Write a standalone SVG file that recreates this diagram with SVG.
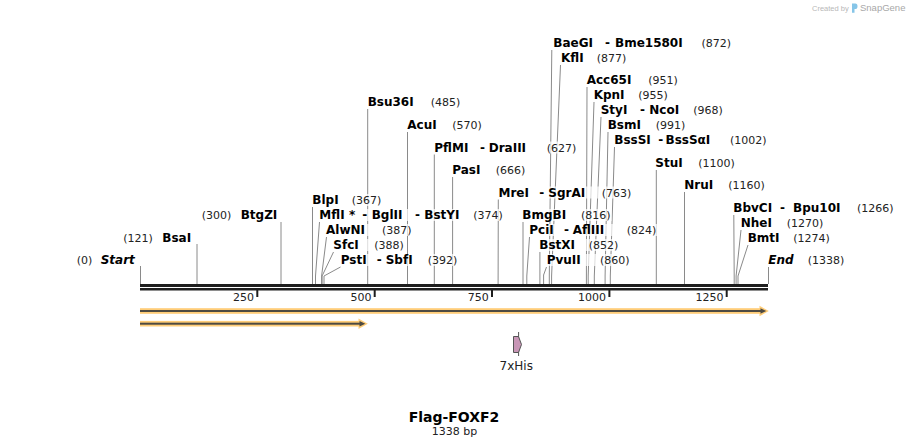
<svg xmlns="http://www.w3.org/2000/svg" width="909" height="447" viewBox="0 0 909 447">
<style>
.n{font-family:"DejaVu Sans",Verdana,sans-serif;font-size:12px;font-weight:bold;fill:#000}
.i{font-style:italic}
.p{font-family:"DejaVu Sans",Verdana,sans-serif;font-size:11px;font-weight:normal;fill:#222}
.bg{fill:#fff;fill-opacity:.7}
.ln{fill:none;stroke:#8a8a8a;stroke-width:1}
.bb{fill:#1e1e1e}
.tk{font-family:"DejaVu Sans",Verdana,sans-serif;font-size:11px;fill:#222;text-anchor:end}
.halo{fill:#ffcd78;stroke:none}
.dk{fill:#4d4a42}
</style>
<rect width="909" height="447" fill="#fff"/>

<g id="watermark">
<text x="812" y="11" font-family="Liberation Sans,Arial,sans-serif" font-size="7.5" fill="#b8b8b8">Created by</text>
<path d="M852,3.5 h3.3 a2.2,2.8 0 0 1 0,5.6 h-0.8 v3.6 h-2.5 z" fill="#86c5e8"/>
<text x="860" y="11.3" font-family="Liberation Sans,Arial,sans-serif" font-size="9.5" fill="#a8a8a8">SnapGene</text>
</g>

<g id="connectors">
<polyline class="ln" points="140.5,266 140.5,284"/>
<polyline class="ln" points="197,244 197,284"/>
<polyline class="ln" points="281,222 281,284"/>
<polyline class="ln" points="312.5,207 312.5,284"/>
<polyline class="ln" points="319.5,222 315.5,276 315.5,284"/>
<polyline class="ln" points="326.5,237 321.6,276 321.6,284"/>
<polyline class="ln" points="333.5,252 322.1,276 322.1,284"/>
<polyline class="ln" points="340.5,267 324,276 324,284"/>
<polyline class="ln" points="367.7,109 367.7,284"/>
<polyline class="ln" points="407.5,132 407.5,284"/>
<polyline class="ln" points="434.3,154.5 434.3,284"/>
<polyline class="ln" points="452.6,177 452.6,284"/>
<polyline class="ln" points="498.3,199.5 498.1,284"/>
<polyline class="ln" points="523,222 523,284"/>
<polyline class="ln" points="529.5,237 526.8,276 526.8,284"/>
<polyline class="ln" points="539.9,252 539.9,284"/>
<polyline class="ln" points="546.5,267 543.6,275 543.6,284"/>
<polyline class="ln" points="551.8,50 549.3,276 549.3,284"/>
<polyline class="ln" points="560.5,65 551.6,276 551.6,284"/>
<polyline class="ln" points="587,87 586.4,276 586.4,284"/>
<polyline class="ln" points="594,102 588.2,276 588.2,284"/>
<polyline class="ln" points="601,117 594.3,276 594.3,284"/>
<polyline class="ln" points="608,132 605.1,276 605.1,284"/>
<polyline class="ln" points="614.5,147 610.3,276 610.3,284"/>
<polyline class="ln" points="656.3,170 656.3,284"/>
<polyline class="ln" points="684.5,192 684.5,284"/>
<polyline class="ln" points="733.8,215 734.2,276 734.2,284"/>
<polyline class="ln" points="741,230 736.1,276 736.1,284"/>
<polyline class="ln" points="748,245 738,276 738,284"/>
<polyline class="ln" points="768.5,267 768.5,284"/>
</g>

<g id="backbone">
<rect class="bb" x="140" y="284" width="628" height="3"/>
<rect class="bb" x="140" y="288" width="628" height="2.5"/>
<rect class="bb" x="256.3" y="290" width="2" height="7"/>
<rect class="bb" x="373.7" y="290" width="2" height="7"/>
<rect class="bb" x="491" y="290" width="2" height="7"/>
<rect class="bb" x="608.4" y="290" width="2" height="7"/>
<rect class="bb" x="725.7" y="290" width="2" height="7"/>
<text class="tk" x="254" y="301">250</text>
<text class="tk" x="371.4" y="301">500</text>
<text class="tk" x="488.7" y="301">750</text>
<text class="tk" x="606.1" y="301">1000</text>
<text class="tk" x="723.4" y="301">1250</text>
</g>

<g id="site-Start"><rect class="bg" x="75.7" y="254" width="60" height="12"/>
<text class="n" y="264"><tspan class="p" x="76.7">(0)</tspan><tspan class="i" x="100.7">Start</tspan></text></g>
<g id="site-BsaI"><rect class="bg" x="122.3" y="231.5" width="70" height="12"/>
<text class="n" y="241.5"><tspan class="p" x="123.3">(121)</tspan><tspan x="162.3">BsaI</tspan></text></g>
<g id="site-BtgZI"><rect class="bg" x="200.7" y="209" width="77.5" height="12"/>
<text class="n" y="219"><tspan class="p" x="201.7">(300)</tspan><tspan x="240.7">BtgZI</tspan></text></g>
<g id="site-BlpI"><rect class="bg" x="311.3" y="194" width="71" height="12"/>
<text class="n" y="204"><tspan x="312.3">BlpI</tspan><tspan class="p" x="351.7">(367)</tspan></text></g>
<g id="site-MflI"><rect class="bg" x="318.3" y="209" width="185.6" height="12"/>
<text class="n" y="219"><tspan x="319.3">MflI</tspan><tspan x="349">*</tspan><tspan x="362.3">-</tspan><tspan x="371.7">BglII</tspan><tspan x="415">-</tspan><tspan x="424.3">BstYI</tspan><tspan class="p" x="473.3">(374)</tspan></text></g>
<g id="site-AlwNI"><rect class="bg" x="325" y="224" width="87.6" height="12"/>
<text class="n" y="234"><tspan x="326">AlwNI</tspan><tspan class="p" x="382">(387)</tspan></text></g>
<g id="site-SfcI"><rect class="bg" x="332.3" y="239" width="72.6" height="12"/>
<text class="n" y="249"><tspan x="333.3">SfcI</tspan><tspan class="p" x="374.3">(388)</tspan></text></g>
<g id="site-PstI"><rect class="bg" x="339.7" y="254" width="118.6" height="12"/>
<text class="n" y="264"><tspan x="340.7">PstI</tspan><tspan x="376.7">-</tspan><tspan x="385.7">SbfI</tspan><tspan class="p" x="427.7">(392)</tspan></text></g>
<g id="site-Bsu36I"><rect class="bg" x="366.7" y="96" width="94.6" height="12"/>
<text class="n" y="106"><tspan x="367.7">Bsu36I</tspan><tspan class="p" x="430.7">(485)</tspan></text></g>
<g id="site-AcuI"><rect class="bg" x="406.3" y="119" width="76.6" height="12"/>
<text class="n" y="129"><tspan x="407.3">AcuI</tspan><tspan class="p" x="452.3">(570)</tspan></text></g>
<g id="site-PflMI"><rect class="bg" x="433.3" y="141.5" width="144" height="12"/>
<text class="n" y="151.5"><tspan x="434.3">PflMI</tspan><tspan x="480">-</tspan><tspan x="488.7">DraIII</tspan><tspan class="p" x="546.7">(627)</tspan></text></g>
<g id="site-PasI"><rect class="bg" x="451.3" y="164" width="75" height="12"/>
<text class="n" y="174"><tspan x="452.3">PasI</tspan><tspan class="p" x="495.7">(666)</tspan></text></g>
<g id="site-MreI"><rect class="bg" x="497.5" y="186.5" width="134.8" height="12"/>
<text class="n" y="196.5"><tspan x="498.5">MreI</tspan><tspan x="539.3">-</tspan><tspan x="548.3">SgrAI</tspan><tspan class="p" x="601.7">(763)</tspan></text></g>
<g id="site-BmgBI"><rect class="bg" x="521.3" y="209" width="90.3" height="12"/>
<text class="n" y="219"><tspan x="522.3">BmgBI</tspan><tspan class="p" x="581">(816)</tspan></text></g>
<g id="site-PciI"><rect class="bg" x="528.3" y="224" width="129" height="12"/>
<text class="n" y="234"><tspan x="529.3">PciI</tspan><tspan x="564">-</tspan><tspan x="572.7">AflIII</tspan><tspan class="p" x="626.7">(824)</tspan></text></g>
<g id="site-BstXI"><rect class="bg" x="538.3" y="239" width="81" height="12"/>
<text class="n" y="249"><tspan x="539.3">BstXI</tspan><tspan class="p" x="588.7">(852)</tspan></text></g>
<g id="site-PvuII"><rect class="bg" x="545.7" y="254" width="84.9" height="12"/>
<text class="n" y="264"><tspan x="546.7">PvuII</tspan><tspan class="p" x="600">(860)</tspan></text></g>
<g id="site-BaeGI"><rect class="bg" x="552.3" y="36.5" width="180" height="12"/>
<text class="n" y="46.5"><tspan x="553.3">BaeGI</tspan><tspan x="605">-</tspan><tspan x="615">Bme1580I</tspan><tspan class="p" x="701.5">(872)</tspan></text></g>
<g id="site-KflI"><rect class="bg" x="560" y="51.5" width="67.3" height="12"/>
<text class="n" y="61.5"><tspan x="561">KflI</tspan><tspan class="p" x="596.7">(877)</tspan></text></g>
<g id="site-Acc65I"><rect class="bg" x="585.7" y="74" width="93.2" height="12"/>
<text class="n" y="84"><tspan x="586.7">Acc65I</tspan><tspan class="p" x="648.3">(951)</tspan></text></g>
<g id="site-KpnI"><rect class="bg" x="592.7" y="89" width="76.2" height="12"/>
<text class="n" y="99"><tspan x="593.7">KpnI</tspan><tspan class="p" x="638.3">(955)</tspan></text></g>
<g id="site-StyI"><rect class="bg" x="599.7" y="104" width="124.2" height="12"/>
<text class="n" y="114"><tspan x="600.7">StyI</tspan><tspan x="640">-</tspan><tspan x="649.3">NcoI</tspan><tspan class="p" x="693.3">(968)</tspan></text></g>
<g id="site-BsmI"><rect class="bg" x="606.7" y="119" width="79.6" height="12"/>
<text class="n" y="129"><tspan x="607.7">BsmI</tspan><tspan class="p" x="655.7">(991)</tspan></text></g>
<g id="site-BssSI"><rect class="bg" x="613.3" y="134" width="154.3" height="12"/>
<text class="n" y="144"><tspan x="614.3">BssSI</tspan><tspan x="658.3">-</tspan><tspan x="665.5">BssSαI</tspan><tspan class="p" x="730">(1002)</tspan></text></g>
<g id="site-StuI"><rect class="bg" x="654.3" y="156.5" width="81.6" height="12"/>
<text class="n" y="166.5"><tspan x="655.3">StuI</tspan><tspan class="p" x="698.3">(1100)</tspan></text></g>
<g id="site-NruI"><rect class="bg" x="683.3" y="179" width="82.6" height="12"/>
<text class="n" y="189"><tspan x="684.3">NruI</tspan><tspan class="p" x="728.3">(1160)</tspan></text></g>
<g id="site-BbvCI"><rect class="bg" x="732.3" y="201.5" width="162.3" height="12"/>
<text class="n" y="211.5"><tspan x="733.3">BbvCI</tspan><tspan x="780">-</tspan><tspan x="793">Bpu10I</tspan><tspan class="p" x="857">(1266)</tspan></text></g>
<g id="site-NheI"><rect class="bg" x="739.7" y="216.5" width="84.6" height="12"/>
<text class="n" y="226.5"><tspan x="740.7">NheI</tspan><tspan class="p" x="786.7">(1270)</tspan></text></g>
<g id="site-BmtI"><rect class="bg" x="746.7" y="231.5" width="84.2" height="12"/>
<text class="n" y="241.5"><tspan x="747.7">BmtI</tspan><tspan class="p" x="793.3">(1274)</tspan></text></g>
<g id="site-End"><rect class="bg" x="767.3" y="254" width="78" height="12"/>
<text class="n" y="264"><tspan class="i" x="768.3">End</tspan><tspan class="p" x="807.7">(1338)</tspan></text></g>

<g id="feature-1">
<rect class="halo" x="140" y="308.2" width="622" height="5.6"/>
<polygon class="halo" points="759.5,305.8 768.8,311 759.5,316.2"/>
<rect class="dk" x="140" y="310" width="621" height="2"/>
<polygon class="dk" points="760.5,308.2 766.3,311 760.5,313.8"/>
</g>
<g id="feature-2">
<rect class="halo" x="140" y="320.9" width="221" height="5.6"/>
<polygon class="halo" points="358.5,318.5 367.8,323.7 358.5,328.9"/>
<rect class="dk" x="140" y="322.7" width="220" height="2"/>
<polygon class="dk" points="359.5,320.9 365.3,323.7 359.5,326.5"/>
</g>

<g id="feature-7xHis">
<line x1="518.6" y1="332" x2="518.6" y2="356" stroke="#555" stroke-width="1"/>
<path d="M513.5,336.5 H518.5 L521.5,344.5 L518.5,352.5 H513.5 Z" fill="#c896b6" stroke="#555" stroke-width="1"/>
<text x="516.3" y="369.5" font-family="DejaVu Sans,Verdana,sans-serif" font-size="12" fill="#222" text-anchor="middle">7xHis</text>
</g>

<g id="title">
<text x="454" y="421.5" font-family="DejaVu Sans,Verdana,sans-serif" font-size="14" font-weight="bold" fill="#000" text-anchor="middle">Flag-FOXF2</text>
<text x="454.5" y="435" font-family="DejaVu Sans,Verdana,sans-serif" font-size="11" fill="#222" text-anchor="middle">1338 bp</text>
</g>
</svg>
